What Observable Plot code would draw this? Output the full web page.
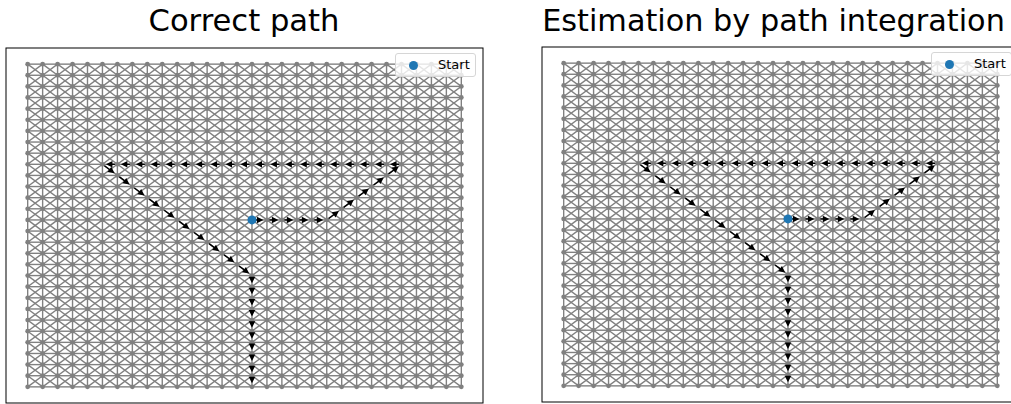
<!DOCTYPE html>
<html><head><meta charset="utf-8">
<script src="https://cdn.jsdelivr.net/npm/d3@7"></script>
<script src="https://cdn.jsdelivr.net/npm/@observablehq/plot@0.6"></script>
<style>
html,body{margin:0;padding:0;background:#fff;}
#wrap{position:relative;width:1011px;height:404px;overflow:hidden;background:#fff;}
#titles{position:absolute;left:0;top:0;}
.panel{position:absolute;width:490px;height:364px;}
.panel svg{max-width:none !important;display:block;}
.legend{position:absolute;width:81px;height:24px;border:1px solid #d6d6d6;border-radius:3px;background:rgba(255,255,255,0.8);box-sizing:border-box;}
.legend .sw{position:absolute;left:13px;top:7px;width:9px;height:9px;border-radius:50%;background:#1f77b4;}
.legend .lb{position:absolute;left:42px;top:3px;font-family:"DejaVu Sans",sans-serif;font-size:13px;line-height:16px;color:#000;}
</style></head>
<body><div id="wrap"><svg id="titles" width="1011" height="44"></svg></div>
<script>
// grid graph size (nodes per side)
const gridCols = 30;
const gridRows = 30;

// panel titles
const titles = ["Correct path", "Estimation by path integration"];
const legendLabel = "Start";

// path nodes (column index, row index from top)
const correctCols = [15,16,17,18,19,20,21,22,23,24,25,24,23,22,21,20,19,18,17,16,15,14,13,12,11,10,9,8,7,6,5,6,7,8,9,10,11,12,13,14,15,15,15,15,15,15,15,15,15,15,15];
const correctRows = [14,14,14,14,14,14,13,12,11,10,9,9,9,9,9,9,9,9,9,9,9,9,9,9,9,9,9,9,9,9,9,10,11,12,13,14,15,16,17,18,19,20,21,22,23,24,25,26,27,28,29];
const estCols = [15,16,17,18,19,20,21,22,23,24,25,24,23,22,21,20,19,18,17,16,15,14,13,12,11,10,9,8,7,6,5,6,7,8,9,10,11,12,13,14,15,15,15,15,15,15,15,15,15,15,15];
const estRows = [14,14,14,14,14,14,13,12,11,10,9,9,9,9,9,9,9,9,9,9,9,9,9,9,9,9,9,9,9,9,9,10,11,12,13,14,15,16,17,18,19,20,21,22,23,24,25,26,27,28,29];

// grid structure
const nodes = [];
for (let r = 0; r < gridRows; r++) for (let c = 0; c < gridCols; c++) nodes.push({c, r});
const edges = [];
for (let r = 0; r < gridRows; r++) for (let c = 0; c < gridCols; c++) {
  if (c + 1 < gridCols) edges.push({c0: c, r0: r, c1: c + 1, r1: r});
  if (r + 1 < gridRows) edges.push({c0: c, r0: r, c1: c, r1: r + 1});
  if (c + 1 < gridCols && r + 1 < gridRows) {
    edges.push({c0: c, r0: r, c1: c + 1, r1: r + 1});
    edges.push({c0: c + 1, r0: r, c1: c, r1: r + 1});
  }
}

const W = 490, H = 364, ML = 5.5, MR = 7.5, MT = 7.5, MB = 1.5;
const padX = (gridCols - 1) * 0.05, padY = (gridRows - 1) * 0.05;
const xDomain = [-padX, gridCols - 1 + padX];
const yDomain = [-padY, gridRows - 1 + padY];
const kx = (W - ML - MR) / (xDomain[1] - xDomain[0]);
const ky = (H - MT - MB) / (yDomain[1] - yDomain[0]);

const shrinkA = 2.5, shrinkB = 3.5, headLen = 6.5, headHalf = 3.3;
const arrowHead = {
  draw(ctx) {
    ctx.moveTo(0, shrinkB);
    ctx.lineTo(headHalf, shrinkB + headLen);
    ctx.lineTo(-headHalf, shrinkB + headLen);
    ctx.closePath();
  }
};

function makePanel(cols, rows) {
  const pts = cols.map((c, i) => ({c, r: rows[i]}));
  const steps = d3.pairs(pts).map(([a, b]) => {
    const dx = (b.c - a.c) * kx, dy = (b.r - a.r) * ky;
    const len = Math.hypot(dx, dy), ux = dx / len, uy = dy / len;
    return {
      c0: a.c, r0: a.r, c1: b.c, r1: b.r, len,
      sc0: a.c + ux * shrinkA / kx, sr0: a.r + uy * shrinkA / ky,
      sc1: b.c - ux * (shrinkB + headLen - 0.5) / kx, sr1: b.r - uy * (shrinkB + headLen - 0.5) / ky,
      angle: Math.atan2(ux, -uy) * 180 / Math.PI
    };
  });
  const shafts = steps.filter(s => s.len > shrinkA + shrinkB + headLen);
  return Plot.plot({
    width: W, height: H,
    marginLeft: ML, marginRight: MR, marginTop: MT, marginBottom: MB,
    x: {domain: xDomain, axis: null},
    y: {domain: yDomain, axis: null, reverse: true},
    marks: [
      Plot.link(edges, {x1: "c0", y1: "r0", x2: "c1", y2: "r1", stroke: "#808080", strokeWidth: 1.4}),
      Plot.dot(nodes, {x: "c", y: "r", r: 2.4, fill: "#808080", stroke: "none"}),
      Plot.link(shafts, {x1: "sc0", y1: "sr0", x2: "sc1", y2: "sr1", stroke: "#000", strokeWidth: 1.4}),
      Plot.dot(steps, {x: "c1", y: "r1", symbol: arrowHead, rotate: "angle", r: 3, fill: "#000", stroke: "none"}),
      Plot.dot(pts.slice(0, 1), {x: "c", y: "r", r: 4.5, fill: "#1f77b4", stroke: "none"}),
      Plot.frame({stroke: "#000", strokeWidth: 1})
    ]
  });
}

const wrap = document.getElementById("wrap");
const titleSvg = d3.select("#titles");
const panels = [
  {cols: correctCols, rows: correctRows, left: 0, top: 40, titleX: 244, titleSize: 30.6},
  {cols: estCols, rows: estRows, left: 536, top: 39, titleX: 773.5, titleSize: 30.3}
];
panels.forEach((p, i) => {
  titleSvg.append("text")
    .attr("x", p.titleX).attr("y", 31.3)
    .attr("text-anchor", "middle")
    .attr("font-family", "'DejaVu Sans', sans-serif")
    .attr("font-size", p.titleSize)
    .attr("fill", "#000")
    .text(titles[i]);
  const d = document.createElement("div");
  d.className = "panel";
  d.style.left = p.left + "px";
  d.style.top = p.top + "px";
  d.appendChild(makePanel(p.cols, p.rows));
  wrap.appendChild(d);
  const lg = document.createElement("div");
  lg.className = "legend";
  lg.style.left = (p.left + 395) + "px";
  lg.style.top = (p.top + 13) + "px";
  lg.innerHTML = '<div class="sw"></div><div class="lb"></div>';
  lg.querySelector(".lb").textContent = legendLabel;
  wrap.appendChild(lg);
});
</script>
</body></html>
